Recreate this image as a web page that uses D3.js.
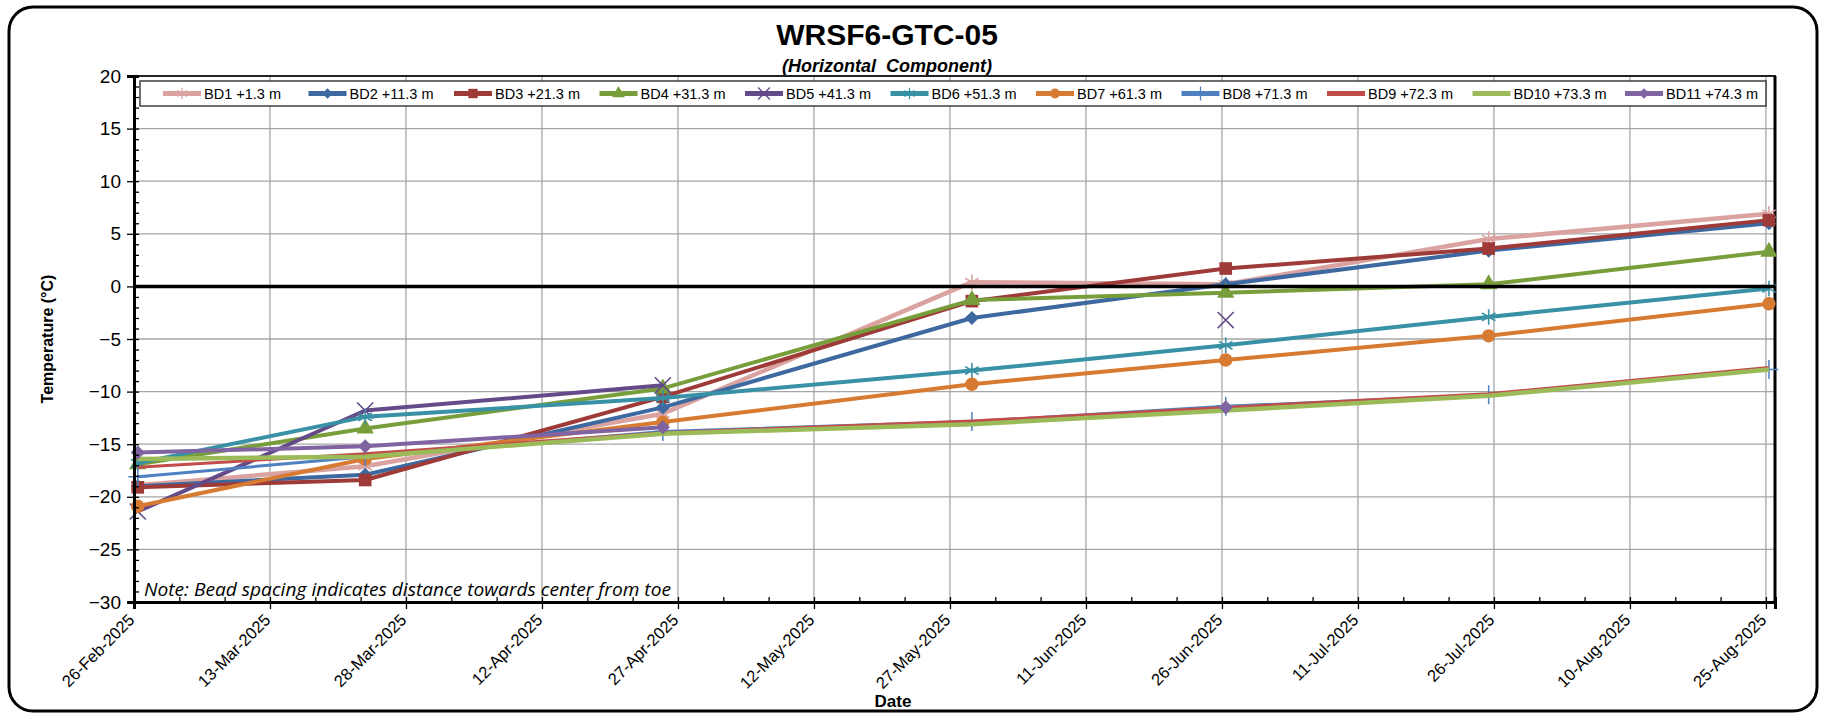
<!DOCTYPE html>
<html>
<head>
<meta charset="utf-8">
<script src="https://cdn.jsdelivr.net/npm/d3@7"></script>
<style>
  body { margin: 0; background: #fff; }
  svg { display: block; font-family: "Liberation Sans", Arial, sans-serif; }
</style>
</head>
<body>
<svg width="1824" height="716"></svg>
<script>
// Datos (lecturas por fecha)
const dates = ["2025-02-26T10:00", "2025-03-23T12:00", "2025-04-25T08:00", "2025-05-29T10:00",
               "2025-06-26T10:00", "2025-07-25T10:00", "2025-08-25T08:00"]
const bd1  = [-18.9, -17.1, -12.1,   0.4,   0.2,   4.5,   6.9]
const bd2  = [-19.0, -17.9, -11.5,  -3.0,   0.2,   3.4,   6.0]
const bd3  = [-19.1, -18.4, -10.5,  -1.4,   1.7,   3.6,   6.3]
const bd4  = [-16.9, -13.5,  -9.7,  -1.3,  -0.6,   0.2,   3.3]
const bd5  = [-21.4, -11.8,  -9.4,  null,  -3.2,  null,  null]
const bd6  = [-16.8, -12.4, -10.6,  -8.0,  -5.6,  -2.9,  -0.2]
const bd7  = [-20.9, -16.4, -12.9,  -9.3,  -7.0,  -4.7,  -1.65]
const bd8  = [-18.1, -16.2, -13.8, -12.85, -11.4, -10.3,  -7.9]
const bd9  = [-17.2, -15.9, -13.9, -12.8, -11.5, -10.2,  -7.7]
const bd10 = [-16.4, -16.2, -14.0, -13.1, -11.8, -10.4,  -7.9]
const bd11 = [-15.8, -15.2, -13.4,  null, -11.5,  null,  null]

const seriesNames = ["BD1 +1.3 m", "BD2 +11.3 m", "BD3 +21.3 m", "BD4 +31.3 m", "BD5 +41.3 m", "BD6 +51.3 m",
                     "BD7 +61.3 m", "BD8 +71.3 m", "BD9 +72.3 m", "BD10 +73.3 m", "BD11 +74.3 m"]
const seriesValues = [bd1, bd2, bd3, bd4, bd5, bd6, bd7, bd8, bd9, bd10, bd11]
const seriesColors = ["#DAA3A1", "#3D69A0", "#9E3A38", "#779E3B", "#644A88", "#3891A5",
                      "#D77A32", "#4E80C2", "#C24C4A", "#9BBB59", "#8064A2"]
const seriesMarkers = ["asterisk", "diamond", "square", "triangle", "times", "asterisk",
                       "circle", "plus", "none", "none", "diamond"]
const seriesWidths = [4.5, 4, 4, 4, 4, 4, 4, 3, 3, 4.5, 4]

const yTickLabels = [20, 15, 10, 5, 0, -5, -10, -15, -20, -25, -30]
const xTickLabels = ["2025-02-26", "2025-03-13", "2025-03-28", "2025-04-12", "2025-04-27", "2025-05-12",
                     "2025-05-27", "2025-06-11", "2025-06-26", "2025-07-11", "2025-07-26", "2025-08-10", "2025-08-25"]

// Márgenes y dimensiones
const plotLeft = 134
const plotRight = 1775
const plotTop = 76
const plotBottom = 602

const parseTime = d3.timeParse("%Y-%m-%dT%H:%M")
const parseDay = d3.timeParse("%Y-%m-%d")
const xDates = dates.map(parseTime)
const xTicks = xTickLabels.map(parseDay)

// Escalas
const xScale = d3.scaleTime([parseDay("2025-02-26"), parseDay("2025-08-26")], [plotLeft, plotRight])
const yScale = d3.scaleLinear([-30, 20], [plotBottom, plotTop])

const svg = d3.select("svg")

// Marco exterior redondeado
svg.append("rect")
  .attr("x", 9).attr("y", 7)
  .attr("width", 1808).attr("height", 704)
  .attr("rx", 24)
  .attr("fill", "#fff")
  .attr("stroke", "#000")
  .attr("stroke-width", 3)

// Títulos
svg.append("text")
  .attr("x", 887).attr("y", 45)
  .attr("text-anchor", "middle")
  .attr("font-size", "30px")
  .attr("font-weight", "bold")
  .text("WRSF6-GTC-05")

svg.append("text")
  .attr("x", 887).attr("y", 72)
  .attr("text-anchor", "middle")
  .attr("font-size", "18px")
  .attr("font-weight", "bold")
  .attr("font-style", "italic")
  .attr("xml:space", "preserve")
  .text("(Horizontal  Component)")

// Rejilla
const grid = svg.append("g")
grid.selectAll("line.h")
  .data(yTickLabels)
  .join("line")
    .attr("x1", plotLeft).attr("x2", plotRight)
    .attr("y1", d => yScale(d)).attr("y2", d => yScale(d))
    .attr("stroke", "#a6a6a6").attr("stroke-width", 1.3)
grid.selectAll("line.v")
  .data(xTicks)
  .join("line")
    .attr("x1", d => xScale(d)).attr("x2", d => xScale(d))
    .attr("y1", plotTop).attr("y2", plotBottom)
    .attr("stroke", "#a6a6a6").attr("stroke-width", 1.3)

// Borde del área de trazado
svg.append("rect")
  .attr("x", plotLeft).attr("y", plotTop)
  .attr("width", plotRight - plotLeft).attr("height", plotBottom - plotTop)
  .attr("fill", "none")
  .attr("stroke", "#222")
  .attr("stroke-width", 2)
svg.append("line")
  .attr("x1", plotRight).attr("x2", plotRight)
  .attr("y1", plotTop).attr("y2", plotBottom)
  .attr("stroke", "#000").attr("stroke-width", 3)

// Nota
svg.append("text")
  .attr("x", 144).attr("y", 596)
  .attr("font-family", "'Open Sans', sans-serif")
  .attr("font-style", "italic")
  .attr("font-size", "19px")
  .attr("textLength", 527)
  .attr("lengthAdjust", "spacingAndGlyphs")
  .text("Note: Bead spacing indicates distance towards center from toe")

// Marcadores
function markerPath(kind, size) {
  const types = {
    square: d3.symbolSquare, diamond: d3.symbolSquare, triangle: d3.symbolTriangle,
    circle: d3.symbolCircle, times: d3.symbolTimes, asterisk: d3.symbolAsterisk, plus: d3.symbolPlus
  }
  return d3.symbol(types[kind], size)()
}
const markerSizes = { square: 160, diamond: 100, triangle: 130, circle: 140, times: 170, asterisk: 170, plus: 120 }
const strokedMarkers = ["times", "asterisk", "plus"]

function drawMarker(g, kind, color, x, y) {
  if (kind === "none") return
  const p = g.append("path")
    .attr("d", markerPath(kind, markerSizes[kind]))
    .attr("transform", `translate(${x},${y})` + (kind === "diamond" ? " rotate(45)" : ""))
  if (strokedMarkers.includes(kind)) {
    p.attr("fill", "none").attr("stroke", color).attr("stroke-width", kind === "plus" ? 1.5 : 1.6)
  } else {
    p.attr("fill", color)
  }
}

// Series
const line = d3.line()
  .defined(d => d.v !== null)
  .x(d => xScale(d.date))
  .y(d => yScale(d.v))

const plot = svg.append("g")
seriesValues.forEach((vals, i) => {
  const pts = vals.map((v, j) => ({ date: xDates[j], v: v }))
  const g = plot.append("g")
  g.append("path")
    .attr("d", line(pts))
    .attr("fill", "none")
    .attr("stroke", seriesColors[i])
    .attr("stroke-width", seriesWidths[i])
    .attr("stroke-linejoin", "round")
  pts.filter(d => d.v !== null).forEach(d => {
    drawMarker(g, seriesMarkers[i], seriesColors[i], xScale(d.date), yScale(d.v))
  })
})

// Línea de cero
svg.append("line")
  .attr("x1", plotLeft).attr("x2", plotRight)
  .attr("y1", yScale(0)).attr("y2", yScale(0))
  .attr("stroke", "#000").attr("stroke-width", 3.5)

// Ejes
const yAxis = d3.axisLeft(yScale).tickValues(yTickLabels).tickSize(7).tickPadding(6)
const yAxisG = svg.append("g")
  .attr("transform", `translate(${plotLeft},0)`)
  .call(yAxis)
yAxisG.append("g")
  .call(d3.axisRight(yScale).tickValues(d3.range(-30, 21, 1)).tickSize(5).tickFormat(""))
yAxisG.selectAll(".domain").attr("stroke", "#000").attr("stroke-width", 3)
yAxisG.selectAll(".tick line").attr("stroke", "#000").attr("stroke-width", 1.3)
yAxisG.selectAll("text")
  .attr("font-size", "19px")
  .attr("font-family", "'Liberation Sans', Arial, sans-serif")
  .attr("fill", "#000")

const xAxis = d3.axisBottom(xScale).tickValues(xTicks).tickSize(7).tickFormat(d3.timeFormat("%d-%b-%Y"))
const xAxisG = svg.append("g")
  .attr("transform", `translate(0,${plotBottom})`)
  .call(xAxis)
const minorX = d3.timeDay.range(parseDay("2025-02-26"), parseDay("2025-08-27"))
  .filter((d, i) => i % 5 === 0)
xAxisG.append("g")
  .call(d3.axisTop(xScale).tickValues(minorX).tickSize(5).tickFormat(""))
xAxisG.selectAll(".domain").attr("stroke", "#000").attr("stroke-width", 3)
xAxisG.selectAll(".tick line").attr("stroke", "#000").attr("stroke-width", 1.3)
xAxisG.selectAll("text")
  .attr("font-size", "16.5px")
  .attr("font-family", "'Liberation Sans', Arial, sans-serif")
  .attr("fill", "#000")
  .attr("text-anchor", "end")
  .attr("dy", "0.35em")
  .attr("transform", "translate(-3,15) rotate(-45)")
  .attr("y", 0)
  .attr("x", 0)

svg.append("text")
  .attr("x", 893).attr("y", 707)
  .attr("text-anchor", "middle")
  .attr("font-size", "17px")
  .attr("font-weight", "bold")
  .text("Date")

svg.append("text")
  .attr("transform", `translate(53, ${(plotTop + plotBottom) / 2}) rotate(-90)`)
  .attr("text-anchor", "middle")
  .attr("font-size", "16px")
  .attr("font-weight", "bold")
  .text("Temperature (°C)")

// Leyenda
const legend = svg.append("g")
legend.append("rect")
  .attr("x", 140).attr("y", 81)
  .attr("width", 1626).attr("height", 25)
  .attr("fill", "#fff")
  .attr("stroke", "#222")
  .attr("stroke-width", 1.3)
seriesNames.forEach((name, i) => {
  const x0 = 163 + i * 145.5 + (i === 10 ? 7 : 0)
  const item = legend.append("g")
  item.append("line")
    .attr("x1", x0).attr("x2", x0 + 38)
    .attr("y1", 93.5).attr("y2", 93.5)
    .attr("stroke", seriesColors[i])
    .attr("stroke-width", 5)
  const k = seriesMarkers[i]
  if (k !== "none") {
    const p = item.append("path")
      .attr("d", markerPath(k, markerSizes[k] * 0.55))
      .attr("transform", `translate(${x0 + 19},93.5)` + (k === "diamond" ? " rotate(45)" : ""))
    if (strokedMarkers.includes(k)) p.attr("fill", "none").attr("stroke", seriesColors[i]).attr("stroke-width", 1.3)
    else p.attr("fill", seriesColors[i])
  }
  item.append("text")
    .attr("x", x0 + 41).attr("y", 98.5)
    .attr("font-size", "14.5px")
    .text(name)
})
</script>
</body>
</html>
